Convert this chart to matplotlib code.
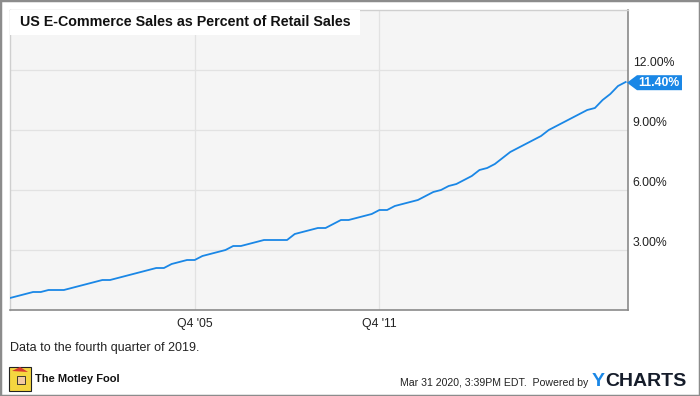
import matplotlib
matplotlib.use("Agg")
import matplotlib.pyplot as plt
import matplotlib.transforms as mtransforms
from matplotlib.patches import Rectangle, Polygon
import numpy as np

plt.rcParams["font.family"] = ["Liberation Sans", "DejaVu Sans"]

# quarterly e-commerce share of retail sales, Q4 1999 .. Q4 2019 (%)
first_year = 1999
pct_values = [0.6, 0.7, 0.8, 0.9, 0.9, 1.0, 1.0, 1.0, 1.1, 1.2,
              1.3, 1.4, 1.5, 1.5, 1.6, 1.7, 1.8, 1.9, 2.0, 2.1,
              2.1, 2.3, 2.4, 2.5, 2.5, 2.7, 2.8, 2.9, 3.0, 3.2,
              3.2, 3.3, 3.4, 3.5, 3.5, 3.5, 3.5, 3.8, 3.9, 4.0,
              4.1, 4.1, 4.3, 4.5, 4.5, 4.6, 4.7, 4.8, 5.0, 5.0,
              5.2, 5.3, 5.4, 5.5, 5.7, 5.9, 6.0, 6.2, 6.3, 6.5,
              6.7, 7.0, 7.1, 7.3, 7.6, 7.9, 8.1, 8.3, 8.5, 8.7,
              9.0, 9.2, 9.4, 9.6, 9.8, 10.0, 10.1, 10.5, 10.8, 11.2,
              11.4]
tick_years = [2005, 2011]
tick_labels = ["Q4 '05", "Q4 '11"]
y_ticks = [3, 6, 9, 12]
y_tick_labels = ["3.00%", "6.00%", "9.00%", "12.00%"]
last_label = "11.40%"

blue = "#1a87e6"
W, H = 700, 396

fig = plt.figure(figsize=(7, 3.96), dpi=100)
fig.patch.set_facecolor("white")

ax = fig.add_axes([10 / W, 1 - 310 / H, 618 / W, 300 / H])
ax.set_facecolor("#f5f5f5")

x = np.arange(len(pct_values))
ax.plot(x, pct_values, color=blue, lw=1.3, solid_joinstyle="round", zorder=3)

ax.set_xlim(0, 80.3)
ax.set_ylim(0, 15)

tick_pos = [(y - first_year) * 4 for y in tick_years]
ax.set_xticks(tick_pos)
ax.set_xticklabels(tick_labels, fontsize=8.8, color="#222222")
ax.tick_params(axis="x", length=0, pad=6)
ax.set_yticks(y_ticks)
ax.set_yticklabels([])
ax.tick_params(axis="y", length=0)
ax.grid(True, color="#e2e2e2", lw=0.9)
ax.set_axisbelow(True)

for s in ["top", "left"]:
    ax.spines[s].set_color("#cfcfcf")
    ax.spines[s].set_linewidth(1.0)
for s in ["right", "bottom"]:
    ax.spines[s].set_color("#8a8a8a")
    ax.spines[s].set_linewidth(1.2)

# y labels on the right, a little above the gridline
trans = mtransforms.blended_transform_factory(ax.transAxes, ax.transData)
lab_trans = mtransforms.offset_copy(trans, fig=fig, x=4.7, y=6.5, units="dots")
for v, lab in zip(y_ticks, y_tick_labels):
    ax.text(1.0, v, lab, transform=lab_trans, fontsize=8.8, color="#222222",
            ha="left", va="center", clip_on=False)

# last value flag
lx = 628 / W
ly = 1 - 82.7 / H
fig.patches.append(Polygon([[lx - 1 / W, ly], [lx + 9 / W, ly + 7.5 / H],
                            [682 / W, ly + 7.5 / H], [682 / W, ly - 7.5 / H],
                            [lx + 9 / W, ly - 7.5 / H]],
                           closed=True, transform=fig.transFigure,
                           facecolor=blue, edgecolor="none", zorder=5))
fig.text(659 / W, ly, last_label, fontsize=8.8, fontweight="bold",
         color="white", ha="center", va="center", zorder=6)

# title with white box
ax.add_patch(Rectangle((0, 1 - 25 / 300), 350 / 618, 25 / 300,
                       transform=ax.transAxes, facecolor="white",
                       edgecolor="none", zorder=4))
fig.text(20 / W, 1 - 22 / H, "US E-Commerce Sales as Percent of Retail Sales",
         fontsize=10.3, fontweight="bold", color="#111111",
         ha="left", va="center", zorder=6)

fig.text(10 / W, 1 - 347.5 / H, "Data to the fourth quarter of 2019.",
         fontsize=9, color="#222222", ha="left", va="center")

# Motley Fool logo (rough)
fig.patches.append(Rectangle((9 / W, 1 - 391 / H), 22 / W, 24 / H,
                             transform=fig.transFigure, facecolor="#f5d640",
                             edgecolor="#222222", lw=0.8))
fig.patches.append(Polygon([[12 / W, 1 - 371 / H], [20 / W, 1 - 367 / H],
                            [28 / W, 1 - 372 / H]], closed=True,
                           transform=fig.transFigure, facecolor="#d83a2e",
                           edgecolor="none"))
fig.patches.append(Rectangle((17 / W, 1 - 384 / H), 8 / W, 8 / H,
                             transform=fig.transFigure, facecolor="#f2c9a0",
                             edgecolor="#222222", lw=0.6))
fig.text(35 / W, 1 - 379 / H, "The Motley Fool", fontsize=8,
         fontweight="bold", color="#111111", ha="left", va="center")

fig.text(588 / W, 1 - 383.5 / H, "Mar 31 2020, 3:39PM EDT.  Powered by",
         fontsize=7.55, color="#222222", ha="right", va="center")
fig.text(592 / W, 1 - 381 / H, "Y", fontsize=14, fontweight="bold",
         color="#1a87e6", ha="left", va="center")
fig.text(605 / W, 1 - 381 / H, "CHARTS", fontsize=14, fontweight="bold",
         color="#151c2a", ha="left", va="center")

# outer border
fig.patches.append(Rectangle((0, 0), 1, 1, transform=fig.transFigure,
                             facecolor="none", edgecolor="#8c8c8c", lw=2.5))

fig.savefig("out.png", dpi=100)
